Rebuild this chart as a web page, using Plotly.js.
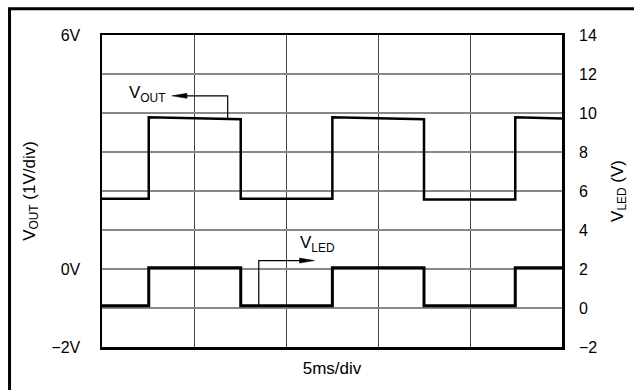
<!DOCTYPE html>
<html>
<head>
<meta charset="utf-8">
<script src="https://cdn.plot.ly/plotly-3.0.1.min.js"></script>
<style>
  html, body { margin: 0; padding: 0; background: #fff; }
  #chart { width: 634px; height: 390px; }
</style>
</head>
<body>
<div id="chart"></div>
<script>
// time axis, 5ms/div, 5 divisions
const timeRange = [0, 25];
const timeGrid = [5, 10, 15, 20];

// VOUT trace (left axis, volts)
const voutTime = [0, 2.54, 2.54, 7.54, 7.54, 12.52, 12.52, 17.5, 17.5, 22.46, 22.46, 25];
const voutVolts = [1.8, 1.8, 3.89, 3.84, 1.8, 1.8, 3.89, 3.84, 1.78, 1.78, 3.89, 3.86];

// VLED trace (right axis, volts)
const vledTime = [0, 2.54, 2.54, 7.54, 7.54, 12.52, 12.52, 17.5, 17.5, 22.46, 22.46, 25];
const vledVolts = [0.12, 0.12, 2.06, 2.06, 0.12, 0.12, 2.06, 2.06, 0.12, 0.12, 2.06, 2.06];

// left axis labelled ticks (1V/div)
const voutTicks = [-2, 0, 6];
const voutTickText = ['\u22122V', '0V', '6V'];

// right axis ticks (its grid gives the 1V/div lines)
const vledTicks = [-2, 0, 2, 4, 6, 8, 10, 12, 14];

const font = 'Liberation Sans, Arial, Helvetica, sans-serif';

const traces = [
  {
    x: voutTime, y: voutVolts, type: 'scatter', mode: 'lines',
    line: {color: '#000', width: 2.5}, yaxis: 'y', hoverinfo: 'none'
  },
  {
    x: vledTime, y: vledVolts, type: 'scatter', mode: 'lines',
    line: {color: '#000', width: 3}, yaxis: 'y2', hoverinfo: 'none'
  }
];

// callouts: leader line + arrow head + label
const voutCall = {x: 6.83, yTrace: 3.85, yArrow: 4.44, tip: 3.8};
const vledCall = {x: 8.52, yTrace: 0.12, yArrow: 2.43, tip: 11.55};

const shapes = [
  // outer frame of the figure
  {type: 'rect', xref: 'paper', yref: 'paper', x0: -0.201, x1: 1.3, y0: -0.3, y1: 1.084,
   line: {color: '#000', width: 3}, layer: 'above'},
  // VOUT leader
  {type: 'path', xref: 'x', yref: 'y',
   path: `M ${voutCall.x},${voutCall.yTrace} L ${voutCall.x},${voutCall.yArrow} L ${voutCall.tip + 0.5},${voutCall.yArrow}`,
   line: {color: '#000', width: 1.2}},
  {type: 'path', xref: 'x', yref: 'y', xsizemode: 'pixel', ysizemode: 'pixel',
   xanchor: voutCall.tip, yanchor: voutCall.yArrow,
   path: 'M 0,0 L 15,2.5 L 15,-2.5 Z', fillcolor: '#000', line: {color: '#000', width: 0.5}},
  // VLED leader
  {type: 'path', xref: 'x', yref: 'y2',
   path: `M ${vledCall.x},${vledCall.yTrace} L ${vledCall.x},${vledCall.yArrow} L ${vledCall.tip - 0.5},${vledCall.yArrow}`,
   line: {color: '#000', width: 1.2}},
  {type: 'path', xref: 'x', yref: 'y2', xsizemode: 'pixel', ysizemode: 'pixel',
   xanchor: vledCall.tip, yanchor: vledCall.yArrow,
   path: 'M 0,0 L -15,2.5 L -15,-2.5 Z', fillcolor: '#000', line: {color: '#000', width: 0.5}}
];

const annotations = [
  {text: 'V<sub>OUT</sub>', xref: 'x', yref: 'y', x: 3.55, y: 4.5,
   xanchor: 'right', yanchor: 'middle', showarrow: false, font: {size: 17, color: '#000'}},
  {text: 'V<sub>LED</sub>', xref: 'x', yref: 'y2', x: 10.65, y: 3.3,
   xanchor: 'left', yanchor: 'middle', showarrow: false, font: {size: 17, color: '#000'}}
];

const layout = {
  width: 634,
  height: 390,
  margin: {l: 102, r: 72, t: 35, b: 43},
  paper_bgcolor: '#fff',
  plot_bgcolor: '#fff',
  showlegend: false,
  font: {family: font, size: 16, color: '#000'},
  xaxis: {
    range: timeRange,
    tickvals: timeGrid,
    showticklabels: false,
    ticks: '',
    showgrid: true,
    gridcolor: '#444',
    gridwidth: 1,
    zeroline: false,
    showline: true,
    mirror: true,
    linecolor: '#000',
    linewidth: 2.5,
    title: {text: '5ms/div', font: {size: 17}, standoff: 14}
  },
  yaxis: {
    range: [-2, 6],
    tickvals: voutTicks,
    ticktext: voutTickText,
    ticks: '',
    ticklabelstandoff: 16,
    showgrid: false,
    zeroline: false,
    showline: true,
    mirror: true,
    linecolor: '#000',
    linewidth: 2.5,
    title: {text: 'V<sub>OUT</sub> (1V/div)', font: {size: 17}, standoff: 12}
  },
  yaxis2: {
    range: [-2, 14],
    tickvals: vledTicks,
    overlaying: 'y',
    side: 'right',
    ticks: '',
    ticklabelstandoff: 16,
    showgrid: true,
    gridcolor: '#888',
    gridwidth: 1.8,
    zeroline: false,
    showline: false,
    title: {text: 'V<sub>LED</sub> (V)', font: {size: 17}, standoff: 14}
  },
  shapes: shapes,
  annotations: annotations
};

Plotly.newPlot('chart', traces, layout, {displayModeBar: false, staticPlot: true});
</script>
</body>
</html>
